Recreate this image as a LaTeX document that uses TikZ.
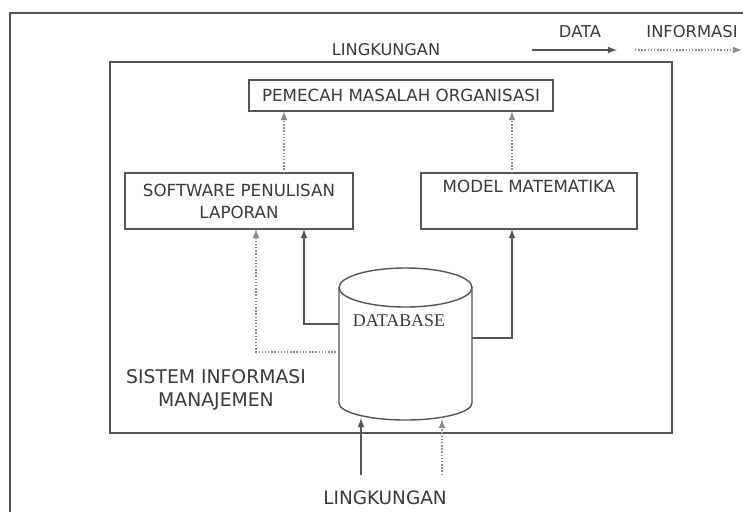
\documentclass[tikz,border=0pt]{standalone}
\usepackage{fontspec}
\setmainfont{DejaVu Sans}
\newfontfamily\dbfont{Liberation Serif}
\usetikzlibrary{arrows}

\definecolor{lineg}{HTML}{555555}
\definecolor{dotg}{HTML}{8C8C8C}
\definecolor{textg}{HTML}{3A3A3A}

\begin{document}
\begin{tikzpicture}[x=0.02cm, y=-0.02cm]
\tikzset{>=latex}
\tikzset{
  box/.style={draw=lineg, line width=0.8pt, inner sep=0pt, outer sep=0pt,
    align=center, text=textg, font=\fontsize{9.5}{12.5}\selectfont},
  data/.style={draw=lineg, line width=0.8pt},
  info/.style={draw=dotg, line width=0.8pt, densely dotted},
  lbl/.style={text=textg, inner sep=0pt, align=center}
}
  \useasboundingbox[fill=white] (0,0) rectangle (743,511);
  \clip (0,0) rectangle (743,511);

  % outer frame (lingkungan)
  \draw[lineg, line width=0.8pt] (10,530) -- (10,13) -- (760,13);

  % legend
  \node[lbl, font=\fontsize{9.3}{11}\selectfont] (dlabel) at (580,32) {DATA};
  \node[lbl, font=\fontsize{9.3}{11}\selectfont] (ilabel) at (692,32) {INFORMASI};
  \coordinate (d1) at (532,50);
  \coordinate (d2) at (617,50);
  \coordinate (i1) at (635,50);
  \coordinate (i2) at (742,50);
  \draw[data,->] (d1) -- (d2);
  \draw[info,->] (i1) -- (i2);

  \node[lbl, font=\fontsize{9.2}{11}\selectfont] (env1) at (386,50) {LINGKUNGAN};

  % system boundary
  \node[draw=lineg, line width=0.8pt, inner sep=0pt, minimum width=11.24cm,
    minimum height=7.42cm] (sim) at (391,247.5) {};
  \node[lbl, font=\fontsize{10.7}{13.5}\selectfont] (simlabel) at (216,390)
    {SISTEM INFORMASI\\MANAJEMEN};

  % boxes
  \node[box, minimum width=6.08cm, minimum height=0.62cm] (pem) at (401,95.5)
    {PEMECAH MASALAH ORGANISASI};
  \node[box, minimum width=4.56cm, minimum height=1.12cm] (sw) at (239,201)
    {SOFTWARE PENULISAN\\LAPORAN};
  \node[box, minimum width=4.32cm, minimum height=1.12cm] (mm) at (529,201)
    {MODEL MATEMATIKA\\\strut};

  % database
  \coordinate (dbtop) at (405.5,287.5);
  \coordinate (dbw) at (339,287.5);
  \coordinate (dbe) at (472,287.5);
  \draw[lineg, line width=0.8pt, fill=white] (dbw) -- (339,403)
    arc[start angle=180, end angle=0, x radius=66.5, y radius=17] -- (dbe);
  \draw[lineg, line width=0.8pt, fill=white] (dbtop) ellipse[x radius=66.5, y radius=19.5];
  \node[lbl, font=\dbfont\fontsize{10.2}{12}\selectfont] (dblabel) at (399,321)
    {DATABASE};

  % connectors
  \draw[info,->] (sw.north -| 284,0) -- (pem.south -| 284,0);
  \draw[info,->] (mm.north -| 512,0) -- (pem.south -| 512,0);
  \draw[data,->] (dbw |- 0,324) -| (sw.south -| 304,0);
  \draw[info,->] (dbw |- 0,352) -| (sw.south -| 256,0);
  \draw[data,->] (dbe |- 0,338) -| (mm.south -| 512,0);

  % input from the environment
  \node[lbl, font=\fontsize{10.5}{12}\selectfont] (env2) at (385,498) {LINGKUNGAN};
  \coordinate (e1) at (361,475);
  \coordinate (e2) at (442,475);
  \draw[data,->] (e1) -- (361,418);
  \draw[info,->] (e2) -- (442,419);
\end{tikzpicture}
\end{document}
